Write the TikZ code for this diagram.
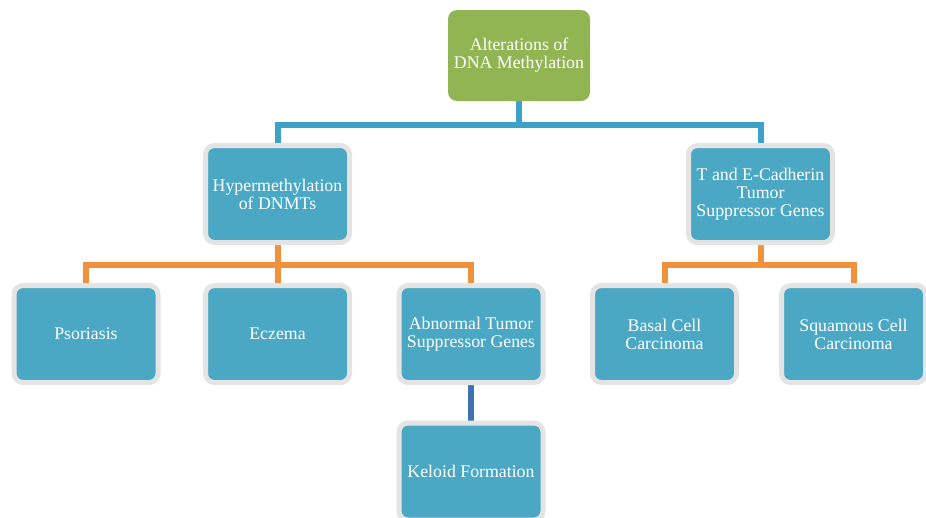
\documentclass[tikz,border=0pt]{standalone}
\usepackage{fontspec}
\setmainfont{Liberation Serif}
\usepackage{tikz}
\usetikzlibrary{backgrounds}
\usetikzlibrary{calc}

\definecolor{boxblue}{RGB}{74,168,197}
\definecolor{rootgreen}{RGB}{146,181,84}
\definecolor{rimgrey}{RGB}{228,228,228}
\definecolor{linkblue}{RGB}{60,162,200}
\definecolor{linkorange}{RGB}{240,145,60}
\definecolor{linkdark}{RGB}{62,114,184}

\begin{document}
\begin{tikzpicture}[
        x=1pt, y=-1pt,
        label text/.style={text=white, align=center, font=\fontsize{17.8}{18}\selectfont, inner sep=1pt},
        root box/.style={label text, fill=rootgreen, rounded corners=9pt,
        minimum width=142pt, minimum height=91pt},
        level box/.style={label text, fill=boxblue, draw=rimgrey, line width=5pt,
        rounded corners=9pt, minimum width=144pt, minimum height=97pt},
        blue line/.style={draw=linkblue, line width=6pt},
        orange line/.style={draw=linkorange, line width=6pt},
        dark line/.style={draw=linkdark, line width=6pt}
        ]
        \useasboundingbox (0,0) rectangle (926,517);

        % top
        \node[root box] (root) at (519,55.5) {Alterations of\\DNA Methylation};

        % second level
        \node[level box] (hyper) at (277.5,194) {Hypermethylation\\of DNMTs};
        \node[level box] (tcad) at (760.5,194) {T and E-Cadherin\\Tumor\\Suppressor Genes};

        % third level
        \node[level box] (psor) at (86,334) {Psoriasis};
        \node[level box] (ecz) at (277.5,334) {Eczema};
        \node[level box] (abn) at (471,334) {Abnormal Tumor\\Suppressor Genes};
        \node[level box] (basal) at (664.5,334) {Basal Cell\\Carcinoma};
        \node[level box] (squam) at (853.5,334) {Squamous Cell\\Carcinoma};

        % fourth level
        \node[level box] (keloid) at (471,471.5) {Keloid Formation};

        % connectors
        \coordinate (topjoint) at (519,125);
        \coordinate (leftjoint) at (277.5,265);
        \coordinate (rightjoint) at (760.5,265);

        \begin{scope}[on background layer]
            \draw[blue line] (root.south) -- (topjoint);
            \draw[blue line] (hyper.north) |- (topjoint) -| (tcad.north);

            \draw[orange line] (hyper.south) -- (leftjoint) -- (ecz.north);
            \draw[orange line] (psor.north) |- (leftjoint) -| (abn.north);

            \draw[orange line] (tcad.south) -- (rightjoint);
            \draw[orange line] (basal.north) |- (rightjoint) -| (squam.north);

            \draw[dark line] (abn.south) -- (keloid.north);
        \end{scope}

    \end{tikzpicture}
\end{document}
